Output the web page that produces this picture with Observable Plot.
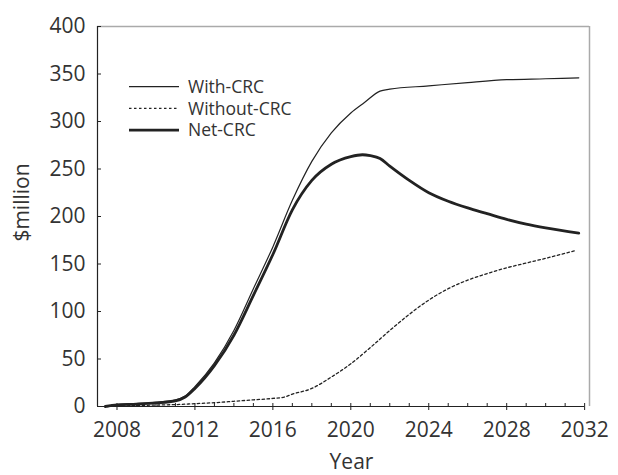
<!DOCTYPE html>
<html><head><meta charset="utf-8">
<script src="https://cdn.jsdelivr.net/npm/d3@7"></script>
<script src="https://cdn.jsdelivr.net/npm/@observablehq/plot@0.6"></script>
<style>
body{margin:0;background:#fff;font-family:"Open Sans",sans-serif;}
#wrap{position:relative;width:618px;height:475px;}
#legend{position:absolute;left:0;top:0;}
</style></head>
<body><div id="wrap"></div>
<script>
const seriesNames = ["With-CRC", "Without-CRC", "Net-CRC"];

const withYears = [2007.4, 2008, 2009, 2010, 2011, 2011.5, 2012, 2013, 2014, 2015, 2016, 2017, 2018, 2019, 2020, 2020.7, 2021.5, 2022, 2024, 2026, 2028, 2030, 2031.7];
const withValues = [0, 2, 3, 4.5, 7, 11, 21, 46, 80, 124, 168, 217, 258, 288, 309, 320, 332, 334, 337.5, 341, 344, 345, 346];

const withoutYears = [2007.5, 2009, 2010, 2011, 2012, 2013, 2014, 2015, 2016, 2016.6, 2017, 2018, 2019, 2020, 2021, 2022, 2023, 2024, 2025, 2026, 2027, 2028, 2029, 2030, 2031.5];
const withoutValues = [0, 1, 1.5, 2, 3, 4, 5.5, 7, 8.5, 10, 13, 19, 31, 45, 62, 80, 97, 112, 124, 133, 140, 146, 151, 156, 164];

const netYears = [2007.4, 2008, 2009, 2010, 2011, 2011.5, 2012, 2013, 2014, 2015, 2016, 2017, 2018, 2019, 2020, 2020.6, 2021, 2021.5, 2022, 2023, 2024, 2025, 2026, 2027, 2028, 2029, 2030, 2031.7];
const netValues = [0, 1.8, 2.6, 3.8, 6, 10, 19, 43, 75, 117, 160, 207, 238, 255, 263, 265, 264, 261, 253, 238, 225, 216, 209, 203, 197, 192, 188, 182.5];

const yTicks = [0, 50, 100, 150, 200, 250, 300, 350, 400];
const xMajorTicks = [2008, 2012, 2016, 2020, 2024, 2028, 2032];
const xMinorTicks = d3.range(2008, 2033);
const xDomain = [2007, 2032.25];
const yDomain = [0, 400];

const toRows = (xs, vs, s) => xs.map((x, i) => ({year: x, value: vs[i], series: s}));
const withData = toRows(withYears, withValues, seriesNames[0]);
const withoutData = toRows(withoutYears, withoutValues, seriesNames[1]);
const netData = toRows(netYears, netValues, seriesNames[2]);

const ink = "#222";
const chart = Plot.plot({
  width: 618, height: 475,
  marginLeft: 97, marginRight: 29, marginTop: 26, marginBottom: 69,
  style: {fontFamily: "'Open Sans', sans-serif", fontSize: "21px", color: "#333", background: "#fff"},
  x: {domain: xDomain, label: null},
  y: {domain: yDomain, label: null},
  marks: [
    Plot.ruleY([yDomain[1]], {stroke: "#aaa", strokeWidth: 1.5}),
    Plot.ruleX([xDomain[1]], {stroke: "#aaa", strokeWidth: 1.5}),
    Plot.ruleX([xDomain[0]], {stroke: ink, strokeWidth: 1.2}),
    Plot.ruleY([yDomain[0]], {x1: xDomain[0], x2: xMajorTicks[xMajorTicks.length - 1], stroke: ink, strokeWidth: 1.2}),
    Plot.axisY(yTicks, {anchor: "left", tickSize: -4, tickPadding: 16, stroke: ink, fill: "#333", fontSize: 21}),
    Plot.axisX(xMinorTicks, {anchor: "bottom", tickSize: -3, tickFormat: () => "", stroke: ink}),
    Plot.axisX(xMajorTicks, {anchor: "bottom", tickSize: 4, tickPadding: 12, tickFormat: d => String(d), stroke: ink, fill: "#333", fontSize: 21}),
    Plot.line(withoutData, {x: "year", y: "value", stroke: ink, strokeWidth: 1.3, strokeDasharray: "2.5,2.5", curve: "monotone-x"}),
    Plot.line(withData, {x: "year", y: "value", stroke: ink, strokeWidth: 1.2, curve: "monotone-x"}),
    Plot.line(netData, {x: "year", y: "value", stroke: ink, strokeWidth: 2.8, curve: "monotone-x"}),
    Plot.text(["Year"], {frameAnchor: "bottom", dx: 8, dy: 62, fill: "#333", fontSize: 21}),
    Plot.text(["$million"], {frameAnchor: "left", textAnchor: "middle", rotate: -90, dx: -75, dy: -14, fill: "#333", fontSize: 21})
  ]
});
const wrap = document.getElementById("wrap");
wrap.appendChild(chart);

// legend overlay
const lg = d3.select(wrap).append("svg").attr("id", "legend").attr("width", 618).attr("height", 475)
  .style("pointer-events", "none");
const styles = [
  {w: 1.2, dash: null},
  {w: 1.3, dash: "2.5,2.5"},
  {w: 2.8, dash: null}
];
seriesNames.forEach((name, i) => {
  const y = 86.7 + i * 21.7;
  lg.append("line").attr("x1", 129).attr("x2", 179).attr("y1", y).attr("y2", y)
    .attr("stroke", ink).attr("stroke-width", styles[i].w)
    .attr("stroke-dasharray", styles[i].dash);
  lg.append("text").attr("x", 188).attr("y", y).attr("dy", "0.35em")
    .attr("font-family", "'Open Sans', sans-serif").attr("font-size", 17.5).attr("fill", "#333").text(name);
});
</script></body></html>
